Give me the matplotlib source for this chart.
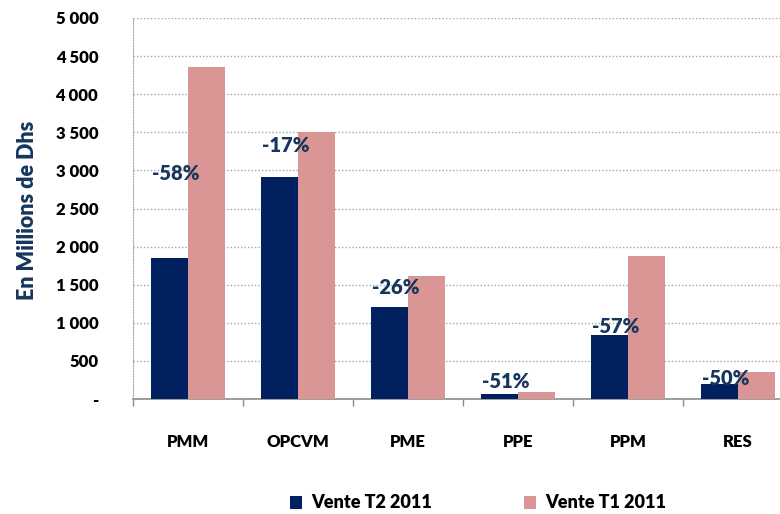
import matplotlib
matplotlib.use("Agg")
import matplotlib.pyplot as plt
import numpy as np
from matplotlib.ticker import FuncFormatter, FixedLocator

# Data
categories = ["PMM", "OPCVM", "PME", "PPE", "PPM", "RES"]
vente_t2 = [1850, 2915, 1205, 60, 840, 195]
vente_t1 = [4360, 3505, 1610, 92, 1875, 352]
variation = ["-58%", "-17%", "-26%", "-51%", "-57%", "-50%"]
label_y = [2960, 3330, 1460, 225, 945, 275]

NAVY = "#002060"
PINK = "#D99694"
LABEL = "#17365D"
FONT = ["Lato", "DejaVu Sans"]
WEIGHT = "heavy"

plt.rcParams["font.family"] = FONT
plt.rcParams["font.weight"] = WEIGHT

fig = plt.figure(figsize=(7.8, 5.14), dpi=100)
ax = fig.add_axes([133 / 780, 1 - 399 / 514, 647 / 780, (399 - 18) / 514])

x = np.arange(len(categories))
w = 0.335
ax.bar(x - w / 2, vente_t2, w, color=NAVY, label="Vente T2 2011", zorder=3)
ax.bar(x + w / 2, vente_t1, w, color=PINK, label="Vente T1 2011", zorder=3)

for xi, lab, ly in zip(x, variation, label_y):
    ax.text(xi - 0.11, ly, lab, ha="center", va="center", fontsize=14.5,
            fontweight=WEIGHT, color=LABEL, zorder=4)

ax.set_xlim(-0.5, 5.38)
ax.set_ylim(0, 5000)
ax.set_yticks(np.arange(0, 5001, 500))
ax.yaxis.set_major_formatter(FuncFormatter(
    lambda v, p: "-" if v == 0 else f"{int(v):,}".replace(",", " ")))
ax.grid(axis="y", color="#A6A6A6", linestyle=(0, (1, 1.5)), linewidth=1, zorder=0)
ax.tick_params(axis="y", length=0, pad=25, labelsize=12, labelcolor="black")

# category labels without ticks, boundary ticks separately
ax.set_xticks(x)
ax.set_xticklabels(categories, fontsize=12, fontweight=WEIGHT)
ax.tick_params(axis="x", length=0, pad=25)
ax.xaxis.set_minor_locator(FixedLocator(np.arange(-0.5, 5.5, 1)))
ax.tick_params(axis="x", which="minor", length=5, width=1, color="#8C8C8C",
               direction="out")

for s in ["top", "right"]:
    ax.spines[s].set_visible(False)
ax.spines["left"].set_color("#A6A6A6")
ax.spines["left"].set_linestyle((0, (1, 1.5)))
ax.spines["bottom"].set_color("#8C8C8C")
ax.spines["bottom"].set_linewidth(1.2)

fig.text(28 / 780, 1 - 210 / 514, "En Millions de Dhs", rotation=90,
         ha="center", va="center", fontsize=15.5, fontweight=WEIGHT, color=LABEL)

leg = fig.legend(loc="center", bbox_to_anchor=(478 / 780, 1 - 503 / 514),
                 ncol=2, frameon=False, fontsize=13, handlelength=0.7,
                 handleheight=0.7, columnspacing=5.05, handletextpad=0.5)

fig.savefig("out.png", dpi=100, facecolor="white")
